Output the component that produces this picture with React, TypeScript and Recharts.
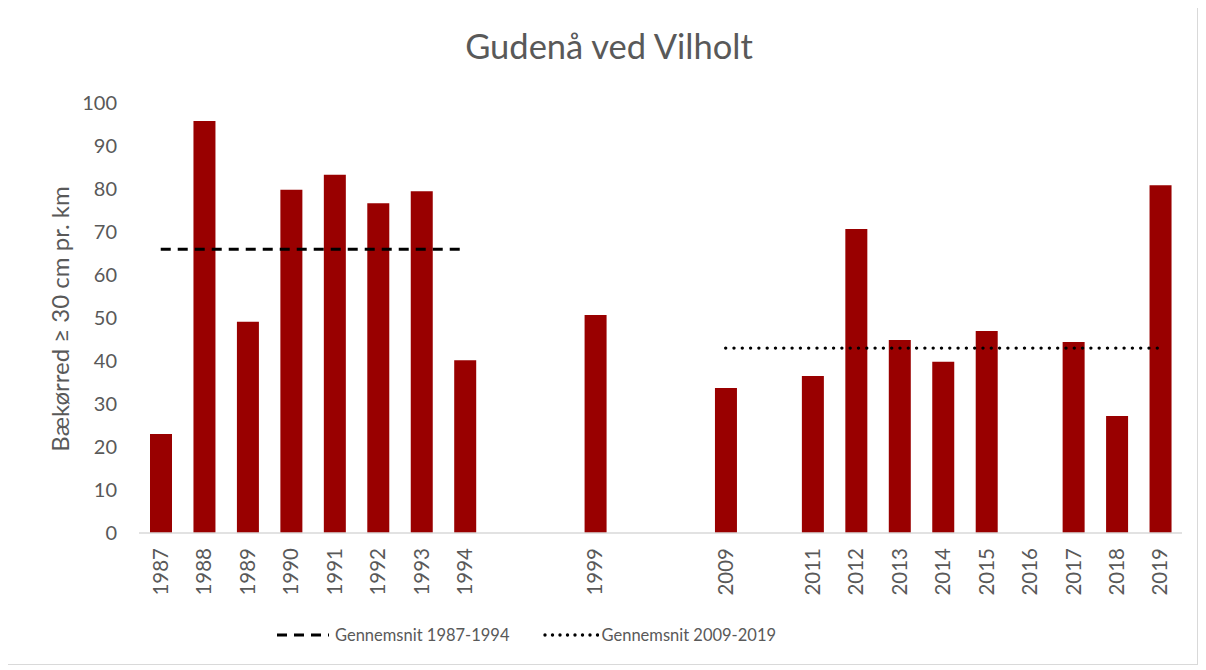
import { ComposedChart, Bar, Line, XAxis, YAxis, Legend } from "recharts";

// slots on the x axis; "gapN" slots are empty years that keep the spacing
const slots = [
  "1987", "1988", "1989", "1990", "1991", "1992", "1993", "1994",
  "gap1", "gap2", "1999", "gap3", "gap4", "2009", "gap5",
  "2011", "2012", "2013", "2014", "2015", "2016", "2017", "2018", "2019",
];

const trout = [
  23.0, 95.8, 49.1, 79.8, 83.3, 76.7, 79.5, 40.2,
  null, null, 50.7, null, null, 33.7, null,
  36.5, 70.7, 44.9, 39.8, 47.0, null, 44.4, 27.2, 80.9,
];

const avgEarly = [
  66, 66, 66, 66, 66, 66, 66, 66,
  null, null, null, null, null, null, null,
  null, null, null, null, null, null, null, null, null,
];

const avgLate = [
  null, null, null, null, null, null, null, null,
  null, null, null, null, null, 43, 43,
  43, 43, 43, 43, 43, 43, 43, 43, 43,
];

const yTicks = [0, 10, 20, 30, 40, 50, 60, 70, 80, 90, 100];

const data = slots.map((s, i) => ({
  slot: s,
  trout: trout[i],
  avgEarly: avgEarly[i],
  avgLate: avgLate[i],
}));

const font = "Lato, 'Open Sans', sans-serif";
const grey = "#595959";

function YearTick(props: any) {
  const { x, y, payload } = props;
  const label = String(payload.value).startsWith("gap") ? "" : payload.value;
  const ty = y + 7;
  return (
    <text
      x={x}
      y={ty}
      transform={`rotate(-90, ${x}, ${ty})`}
      textAnchor="end"
      dy="0.35em"
      fill={grey}
      fontSize={20.5}
      fontFamily={font}
    >
      {label}
    </text>
  );
}

function LegendBox() {
  return (
    <div
      style={{
        display: "flex",
        alignItems: "center",
        width: 1189,
        height: 40,
        boxSizing: "border-box",
        paddingLeft: 269,
        fontFamily: font,
        fontSize: 16.5,
        color: grey,
      }}
    >
      <svg width={52} height={10}>
        <line x1={0} y1={5} x2={52} y2={5} stroke="#000" strokeWidth={3} strokeDasharray="10 7" />
      </svg>
      <span style={{ marginLeft: 6 }}>Gennemsnit 1987-1994</span>
      <svg width={56} height={10} style={{ marginLeft: 33 }}>
        <line x1={2} y1={5} x2={56} y2={5} stroke="#000" strokeWidth={3.4} strokeDasharray="0 7.5" strokeLinecap="round" />
      </svg>
      <span style={{ marginLeft: 3 }}>Gennemsnit 2009-2019</span>
    </div>
  );
}

export default function App() {
  return (
    <div
      style={{
        position: "relative",
        width: 1191,
        height: 661,
        marginLeft: -1,
        marginTop: -4,
        border: "1px solid #d9d9d9",
        boxSizing: "border-box",
        background: "#fff",
      }}
    >
      <div
        style={{
          position: "absolute",
          top: 20,
          left: 0,
          width: 1202,
          textAlign: "center",
          fontFamily: font,
          fontSize: 34.5,
          color: grey,
        }}
      >
        Gudenå ved Vilholt
      </div>
      <div
        style={{
          position: "absolute",
          left: 51,
          top: 314,
          transform: "translate(-50%, -50%) rotate(-90deg)",
          whiteSpace: "nowrap",
          fontFamily: font,
          fontSize: 24,
          color: grey,
        }}
      >
        Bækørred ≥ 30 cm pr. km
      </div>
      <ComposedChart
        width={1189}
        height={659}
        data={data}
        margin={{ top: 98, right: 15, left: 71, bottom: 9 }}
        barSize={22}
      >
        <XAxis
          dataKey="slot"
          interval={0}
          height={82}
          tickLine={false}
          axisLine={{ stroke: "#d9d9d9", strokeWidth: 1.5 }}
          tick={<YearTick />}
        />
        <YAxis
          width={60}
          domain={[0, 100]}
          ticks={yTicks}
          axisLine={false}
          tickLine={false}
          tickMargin={16}
          tick={{ fill: grey, fontSize: 20, fontFamily: font }}
        />
        <Legend
          verticalAlign="bottom"
          content={<LegendBox />}
          wrapperStyle={{ left: 0, width: 1189, height: 40 }}
        />
        <Bar dataKey="trout" fill="#990000" isAnimationActive={false} />
        <Line
          dataKey="avgEarly"
          stroke="#000"
          strokeWidth={3}
          strokeDasharray="10 7"
          dot={false}
          activeDot={false}
          isAnimationActive={false}
        />
        <Line
          dataKey="avgLate"
          stroke="#000"
          strokeWidth={3.4}
          strokeDasharray="0 8.3"
          strokeLinecap="round"
          dot={false}
          activeDot={false}
          isAnimationActive={false}
        />
      </ComposedChart>
    </div>
  );
}
